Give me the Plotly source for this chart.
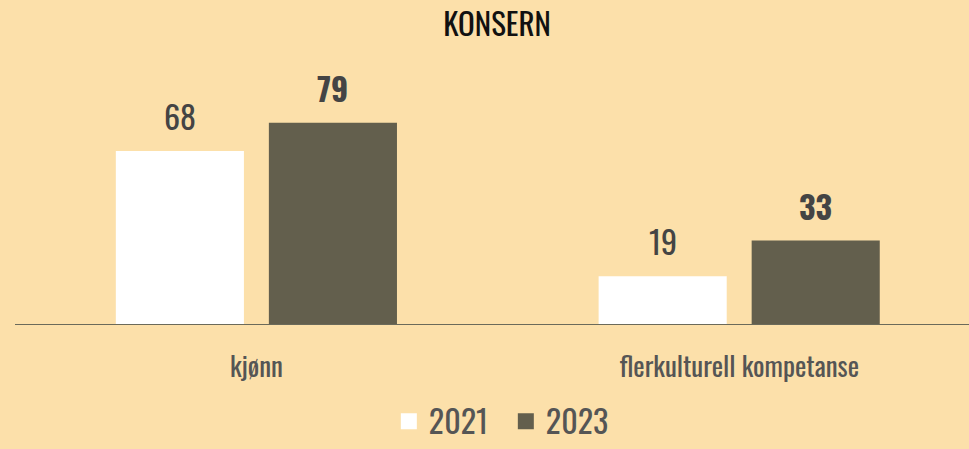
import plotly.graph_objects as go

categories = ["kjønn", "flerkulturell kompetanse"]
series_names = ["2021", "2023"]
values_2021 = [68, 19]
values_2023 = [79, 33]

BG = "#FCE0AA"
DARK = "#635F4D"
FONT = "Oswald, 'Liberation Sans Narrow', 'DejaVu Sans Condensed', sans-serif"

fig = go.Figure()
fig.add_trace(go.Bar(x=categories, y=values_2021, name=series_names[0],
                     marker=dict(color="#FFFFFF", line=dict(width=0)), showlegend=False))
fig.add_trace(go.Bar(x=categories, y=values_2023, name=series_names[1],
                     marker=dict(color=DARK, line=dict(width=0)), showlegend=False))

# legend entries
for nm, col in zip(series_names, ["#FFFFFF", DARK]):
    fig.add_trace(go.Scatter(x=[None], y=[None], mode="markers", name=nm,
                             marker=dict(symbol="square", size=18, color=col)))

annotations = []
for i, cat in enumerate(categories):
    annotations.append(dict(x=cat, y=values_2021[i], xref="x", yref="y", text=str(values_2021[i]),
                             showarrow=False, yanchor="bottom", xshift=-76.5, yshift=10,
                             font=dict(family=FONT, size=32, color="#444444")))
    annotations.append(dict(x=cat, y=values_2023[i], xref="x", yref="y", text="<b>%d</b>" % values_2023[i],
                             showarrow=False, yanchor="bottom", xshift=76.5, yshift=10,
                             font=dict(family=FONT, size=32, color="#444444")))

fig.update_layout(
    width=969, height=449,
    paper_bgcolor=BG, plot_bgcolor=BG,
    margin=dict(l=15, r=0, t=0, b=0),
    barmode="group", bargap=0.366, bargroupgap=0.163,
    title=dict(text="KONSERN", x=0.513, xanchor="center", y=0.944, yanchor="middle",
               font=dict(family=FONT, size=31, color="#111111")),
    xaxis=dict(range=[-0.5, 1.476], showgrid=False, zeroline=False, showline=False,
               ticks="", ticklabelstandoff=24,
               tickfont=dict(family=FONT, size=27, color="#555555")),
    yaxis=dict(range=[0, 95.7], domain=[124 / 449, 369 / 449], visible=False,
               showgrid=False, zeroline=False),
    legend=dict(orientation="h", x=0.5145, xanchor="center", y=0, yanchor="bottom",
                font=dict(family=FONT, size=32, color="#555555"), itemsizing="trace",
                entrywidth=72, entrywidthmode="pixels",
                bgcolor="rgba(0,0,0,0)", borderwidth=0),
    annotations=annotations,
    shapes=[dict(type="line", xref="paper", yref="y", x0=0, x1=1, y0=0, y1=0,
                 line=dict(color="#6B6A5A", width=2))],
)

fig.write_html("out.html", config={"displayModeBar": False},
               post_script="document.body.style.margin='0';")
